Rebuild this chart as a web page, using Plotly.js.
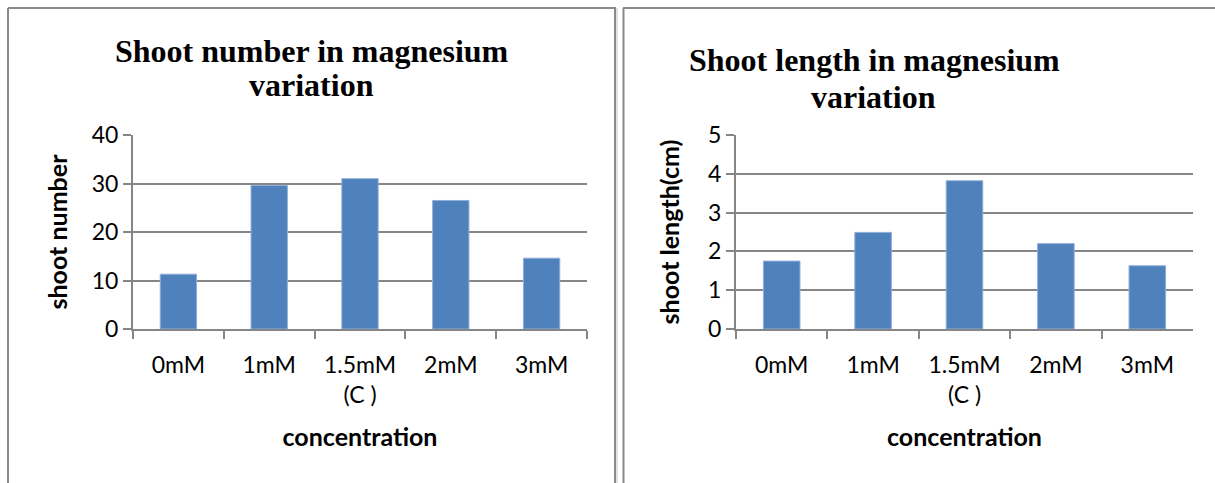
<!DOCTYPE html>
<html>
<head>
<meta charset="utf-8">
<script src="https://cdn.plot.ly/plotly-3.0.1.min.js"></script>
<style>
  html, body { margin: 0; padding: 0; background: #fff; }
  #chart { width: 1215px; height: 483px; }
</style>
</head>
<body>
<div id="chart"></div>
<script>
// Magnesium concentrations tested (1.5mM is the control)
const concentrations = ['0mM', '1mM', '1.5mM<br>(C )', '2mM', '3mM'];
// Mean number of shoots per concentration
const shootNumber = [11.3, 29.6, 31.0, 26.5, 14.6];
// Mean shoot length (cm) per concentration
const shootLength = [1.75, 2.49, 3.82, 2.20, 1.63];

const numberTicks = [0, 10, 20, 30, 40];
const lengthTicks = [0, 1, 2, 3, 4, 5];

const W = 1215, H = 483;
const px = v => v / W;          // horizontal pixel -> paper
const py = v => 1 - v / H;      // vertical pixel (from top) -> paper

const BAR = '#4F81BD';
const GRID = '#868686';
const BORDER = '#8a8a8a';
const tickFont = { family: 'Lato, sans-serif', size: 23, color: '#000' };
const axisTitleFont = { family: 'Lato, sans-serif', size: 25, color: '#000', weight: 'bold' };
const titleFont = { family: '"Liberation Serif", "Times New Roman", serif', size: 32, color: '#000', weight: 'bold' };

function xAxis(domain, anchor) {
  return {
    domain: domain, anchor: anchor, type: 'category',
    showline: true, linecolor: GRID, linewidth: 2,
    ticks: 'outside', tickson: 'boundaries', ticklen: 8, tickwidth: 2, tickcolor: GRID,
    ticklabelstandoff: 14,
    showgrid: false, zeroline: false, fixedrange: true,
    tickfont: tickFont,
    title: { text: 'concentration', font: axisTitleFont, standoff: 22 }
  };
}
function yAxis(domain, anchor, range, tickvals, title, standoff) {
  return {
    domain: domain, anchor: anchor, range: range,
    tickmode: 'array', tickvals: tickvals,
    showline: true, linecolor: GRID, linewidth: 2,
    ticks: 'outside', ticklen: 8, tickwidth: 2, tickcolor: GRID,
    showgrid: true, gridcolor: GRID, gridwidth: 2,
    zeroline: false, fixedrange: true,
    tickfont: tickFont,
    title: { text: title, font: axisTitleFont, standoff: standoff }
  };
}

const traces = [
  { type: 'bar', x: concentrations, y: shootNumber, xaxis: 'x', yaxis: 'y',
    marker: { color: BAR, line: { color: '#8eaed8', width: 1 } }, hoverinfo: 'x+y' },
  { type: 'bar', x: concentrations, y: shootLength, xaxis: 'x2', yaxis: 'y2',
    marker: { color: BAR, line: { color: '#8eaed8', width: 1 } }, hoverinfo: 'x+y' }
];

// Panel frames around each chart
function line(x0, y0, x1, y1, color, width) {
  return { type: 'line', xref: 'paper', yref: 'paper',
           x0: px(x0), y0: py(y0), x1: px(x1), y1: py(y1),
           line: { color: color, width: width } };
}
const shapes = [
  line(8, 8, 616, 8, BORDER, 2),
  line(8, 8, 8, 483, BORDER, 2),
  line(615, 8, 615, 483, BORDER, 2),
  line(617, 8, 617, 483, '#c4c4c4', 1),
  line(623.5, 8, 623.5, 483, BORDER, 2),
  line(623, 8, 1215, 8, BORDER, 2)
];

function titleLine(text, x, y) {
  return { text: text, xref: 'paper', yref: 'paper', x: px(x), y: py(y),
           xanchor: 'center', yanchor: 'middle', showarrow: false, font: titleFont };
}
const annotations = [
  titleLine('Shoot number in magnesium', 312, 51),
  titleLine('variation', 311, 85),
  titleLine('Shoot length in magnesium', 874, 60),
  titleLine('variation', 873, 97)
];

const layout = {
  width: W, height: H,
  margin: { l: 0, r: 0, t: 0, b: 0 },
  paper_bgcolor: '#fff', plot_bgcolor: '#fff',
  showlegend: false, bargap: 0.6,
  xaxis: xAxis([px(133), px(587)], 'y'),
  yaxis: yAxis([py(329), py(135)], 'x', [0, 40], numberTicks, 'shoot number', 17),
  xaxis2: xAxis([px(736), px(1193)], 'y2'),
  yaxis2: yAxis([py(329), py(135)], 'x2', [0, 5], lengthTicks, 'shoot length(cm)', 21),
  shapes: shapes,
  annotations: annotations
};

Plotly.newPlot('chart', traces, layout, { displayModeBar: false, staticPlot: true });
</script>
</body>
</html>
